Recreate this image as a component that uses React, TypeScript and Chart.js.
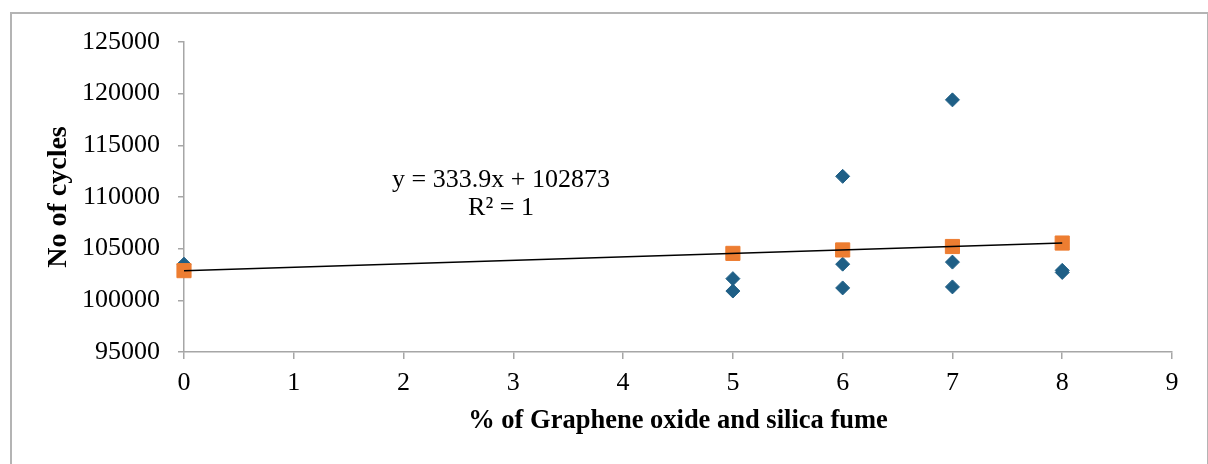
import React, { useEffect, useRef } from "react";
import { Chart, registerables } from "chart.js";

Chart.register(...registerables);

// ---- data ----
const cycleX = [0, 5, 5, 6, 6, 6, 7, 7, 7, 8, 8];
const cycleY = [103500, 102100, 100900, 112000, 103500, 101200, 119400, 103700, 101300, 102900, 102700];
const avgX = [0, 5, 6, 7, 8];
const avgY = [102873, 104543, 104877, 105210, 105544];
const trendX = [0, 8];
const trendY = [102873, 105544];
const xTickMin = 0;
const xTickMax = 9;
const yTickMin = 95000;
const yTickMax = 125000;
const yTickStep = 5000;
const equationLines = ["y = 333.9x + 102873", "R² = 1"];
const xTitle = "% of Graphene oxide and silica fume";
const yTitle = "No of cycles";

const FONT = "'Liberation Serif', 'Times New Roman', serif";
const BLUE = "#1F5F86";
const ORANGE = "#ED7D31";
const AXIS = "#A6A6A6";

const toPts = (xs: number[], ys: number[]) => xs.map((x, i) => ({ x, y: ys[i] }));

export default function App() {
  const ref = useRef<HTMLCanvasElement | null>(null);

  useEffect(() => {
    if (!ref.current) return;
    const equationPlugin = {
      id: "equation",
      afterDatasetsDraw(chart: any) {
        const ctx = chart.ctx;
        ctx.save();
        ctx.font = `26px ${FONT}`;
        ctx.fillStyle = "#000";
        ctx.textAlign = "center";
        ctx.textBaseline = "alphabetic";
        ctx.fillText(equationLines[0], 501, 187);
        ctx.fillText(equationLines[1], 501, 215);
        ctx.restore();
      },
    };

    const chart = new Chart(ref.current, {
      type: "scatter",
      data: {
        datasets: [
          {
            type: "line",
            data: toPts(trendX, trendY),
            borderColor: "#000",
            borderWidth: 1.5,
            pointRadius: 0,
            fill: false,
            order: 0,
            clip: false,
          } as any,
          {
            data: toPts(avgX, avgY),
            pointStyle: "rect",
            pointRadius: 10,
            backgroundColor: ORANGE,
            borderColor: ORANGE,
            borderWidth: 1,
            order: 1,
            clip: false,
          },
          {
            data: toPts(cycleX, cycleY),
            pointStyle: "rectRot",
            pointRadius: 7,
            backgroundColor: BLUE,
            borderColor: BLUE,
            borderWidth: 1,
            order: 2,
            clip: false,
          },
        ],
      },
      options: {
        responsive: false,
        animation: false,
        events: [],
        layout: { padding: { left: 0, top: 42, right: 36, bottom: 0 } },
        plugins: { legend: { display: false }, tooltip: { enabled: false } },
        scales: {
          x: {
            type: "linear",
            min: xTickMin,
            max: xTickMax,
            ticks: { stepSize: 1, color: "#000", font: { family: FONT, size: 26 }, padding: 9 },
            grid: { drawOnChartArea: false, drawTicks: true, tickLength: 7, color: AXIS, lineWidth: 1.5 },
            border: { display: true, color: AXIS, width: 1.5 },
            title: {
              display: true,
              text: xTitle,
              color: "#000",
              font: { family: FONT, size: 26.5, weight: "bold" },
              padding: { top: 0, bottom: 27 },
            },
            afterFit: (s: any) => {
              s.height = 112;
            },
          },
          y: {
            type: "linear",
            min: yTickMin,
            max: yTickMax,
            ticks: {
              stepSize: yTickStep,
              color: "#000",
              font: { family: FONT, size: 26 },
              padding: 18,
              callback: (v: any) => String(v),
            },
            grid: { drawOnChartArea: false, drawTicks: true, tickLength: 6, color: AXIS, lineWidth: 1.5 },
            border: { display: true, color: AXIS, width: 1.5 },
            title: {
              display: true,
              text: yTitle,
              color: "#000",
              font: { family: FONT, size: 28, weight: "bold" },
              padding: { top: 42, bottom: 0 },
            },
            afterFit: (s: any) => {
              s.width = 184;
            },
          },
        },
      },
      plugins: [equationPlugin],
    } as any);
    return () => chart.destroy();
  }, []);

  return (
    <div style={{ position: "fixed", left: 0, top: 0, width: 1208, height: 464, overflow: "hidden", background: "#fff" }}>
      <div
        style={{
          position: "absolute",
          left: 10,
          top: 12,
          width: 1195,
          height: 520,
          border: "2px solid #B4B4B4",
        }}
      />
      <canvas ref={ref} width={1208} height={464} style={{ position: "absolute", left: 0, top: 0 }} />
    </div>
  );
}
